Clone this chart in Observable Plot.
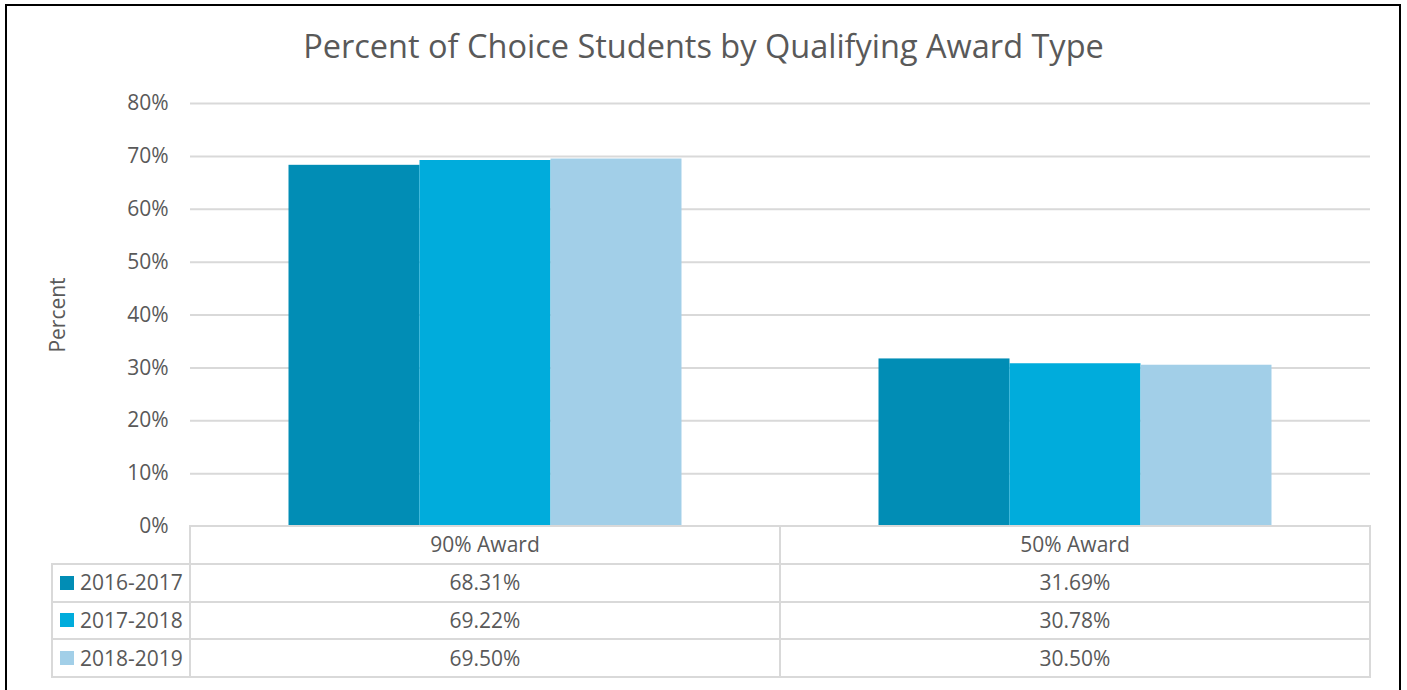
<!DOCTYPE html>
<html>
<head>
<meta charset="utf-8">
<script src="https://cdn.jsdelivr.net/npm/d3@7"></script>
<script src="https://cdn.jsdelivr.net/npm/@observablehq/plot@0.6"></script>
<style>
  html, body { margin: 0; padding: 0; background: #fff; }
  body { font-family: "Open Sans", sans-serif; color: #595959; width: 1407px; height: 690px; overflow: hidden; position: relative; }
  #frame { position: absolute; left: 5px; top: 4px; width: 1392px; height: 720px; border: 2px solid #000; }
  #title { position: absolute; left: 0; top: 30px; width: 1407px; text-align: center; font-size: 32.5px; line-height: 32.5px; white-space: nowrap; }
  #ylabel { position: absolute; font-size: 21px; line-height: 21px; white-space: nowrap; transform: translate(-50%, -50%) rotate(-90deg); }
  #chart { position: absolute; left: 0; top: 90px; }
  .cell { position: absolute; box-sizing: border-box; border: 2px solid #d9d9d9; display: flex; align-items: center; justify-content: center; font-size: 21px; line-height: 21px; white-space: nowrap; background: #fff; }
  .leg { justify-content: flex-start; padding-left: 7px; }
  .sw { width: 14px; height: 14px; margin-right: 6px; flex: none; }
</style>
</head>
<body>
<div id="frame"></div>
<div id="title"></div>
<div id="ylabel"></div>
<div id="chart"></div>
<div id="table"></div>
<script>
// ---- data ----
const titleText = "Percent of Choice Students by Qualifying Award Type";
const yLabel = "Percent";
const awards = ["90% Award", "50% Award"];
const years = ["2016-2017", "2017-2018", "2018-2019"];
const values2016_2017 = [68.31, 31.69];
const values2017_2018 = [69.22, 30.78];
const values2018_2019 = [69.50, 30.50];
const yTicks = [0, 10, 20, 30, 40, 50, 60, 70, 80];
const colors = ["#018db5", "#00acdc", "#a2cfe8"];

const series = [values2016_2017, values2017_2018, values2018_2019];
const rows = [];
years.forEach((yr, i) => awards.forEach((aw, j) => rows.push({award: aw, year: yr, value: series[i][j]})));

document.getElementById("title").textContent = titleText;

const plot = Plot.plot({
  width: 1407,
  height: 437,
  marginLeft: 190,
  marginRight: 37,
  marginTop: 13,
  marginBottom: 1,
  style: {fontFamily: "Open Sans, sans-serif", fontSize: "21px", color: "#595959", background: "transparent", overflow: "visible"},
  fx: {domain: awards, padding: 0, round: false, axis: null, label: null},
  x: {domain: years, padding: 0, paddingOuter: 0.752, round: false, axis: null, label: null},
  y: {domain: [0, 80], label: null},
  color: {domain: years, range: colors},
  marks: [
    Plot.gridY(yTicks, {stroke: "#d9d9d9", strokeOpacity: 1, strokeWidth: 2}),
    Plot.axisY(yTicks, {tickSize: 0, tickPadding: 22, tickFormat: d => d + "%", label: null, fill: "#595959"}),
    Plot.barY(rows, {fx: "award", x: "year", y: "value", fill: "year"})
  ]
});
document.getElementById("chart").appendChild(plot);

// ---- y label ----
const ys = plot.scale("y");
const top0 = 90;
const yl = document.getElementById("ylabel");
yl.textContent = yLabel;
yl.style.left = "57px";
yl.style.top = (top0 + (ys.apply(0) + ys.apply(80)) / 2) + "px";

// ---- data table aligned to the fx scale ----
const fxs = plot.scale("fx");
const bw = fxs.bandwidth;
const tableTop = top0 + ys.apply(0);
const rowH = 37.8;
const legLeft = 52;
const firstLeft = fxs.apply(awards[0]);
const table = document.getElementById("table");
function cell(x, y, w, h, cls) {
  const d = document.createElement("div");
  d.className = "cell" + (cls ? " " + cls : "");
  d.style.left = (x - 1) + "px";
  d.style.top = (y - 1) + "px";
  d.style.width = (w + 2) + "px";
  d.style.height = (h + 2) + "px";
  table.appendChild(d);
  return d;
}
awards.forEach(aw => {
  cell(fxs.apply(aw), tableTop, bw, rowH).textContent = aw;
});
years.forEach((yr, i) => {
  const y = tableTop + rowH * (i + 1);
  const lc = cell(legLeft, y, firstLeft - legLeft, rowH, "leg");
  const sw = document.createElement("span");
  sw.className = "sw";
  sw.style.background = colors[i];
  lc.appendChild(sw);
  lc.appendChild(document.createTextNode(yr));
  awards.forEach((aw, j) => {
    cell(fxs.apply(aw), y, bw, rowH).textContent = series[i][j].toFixed(2) + "%";
  });
});
</script>
</body>
</html>
